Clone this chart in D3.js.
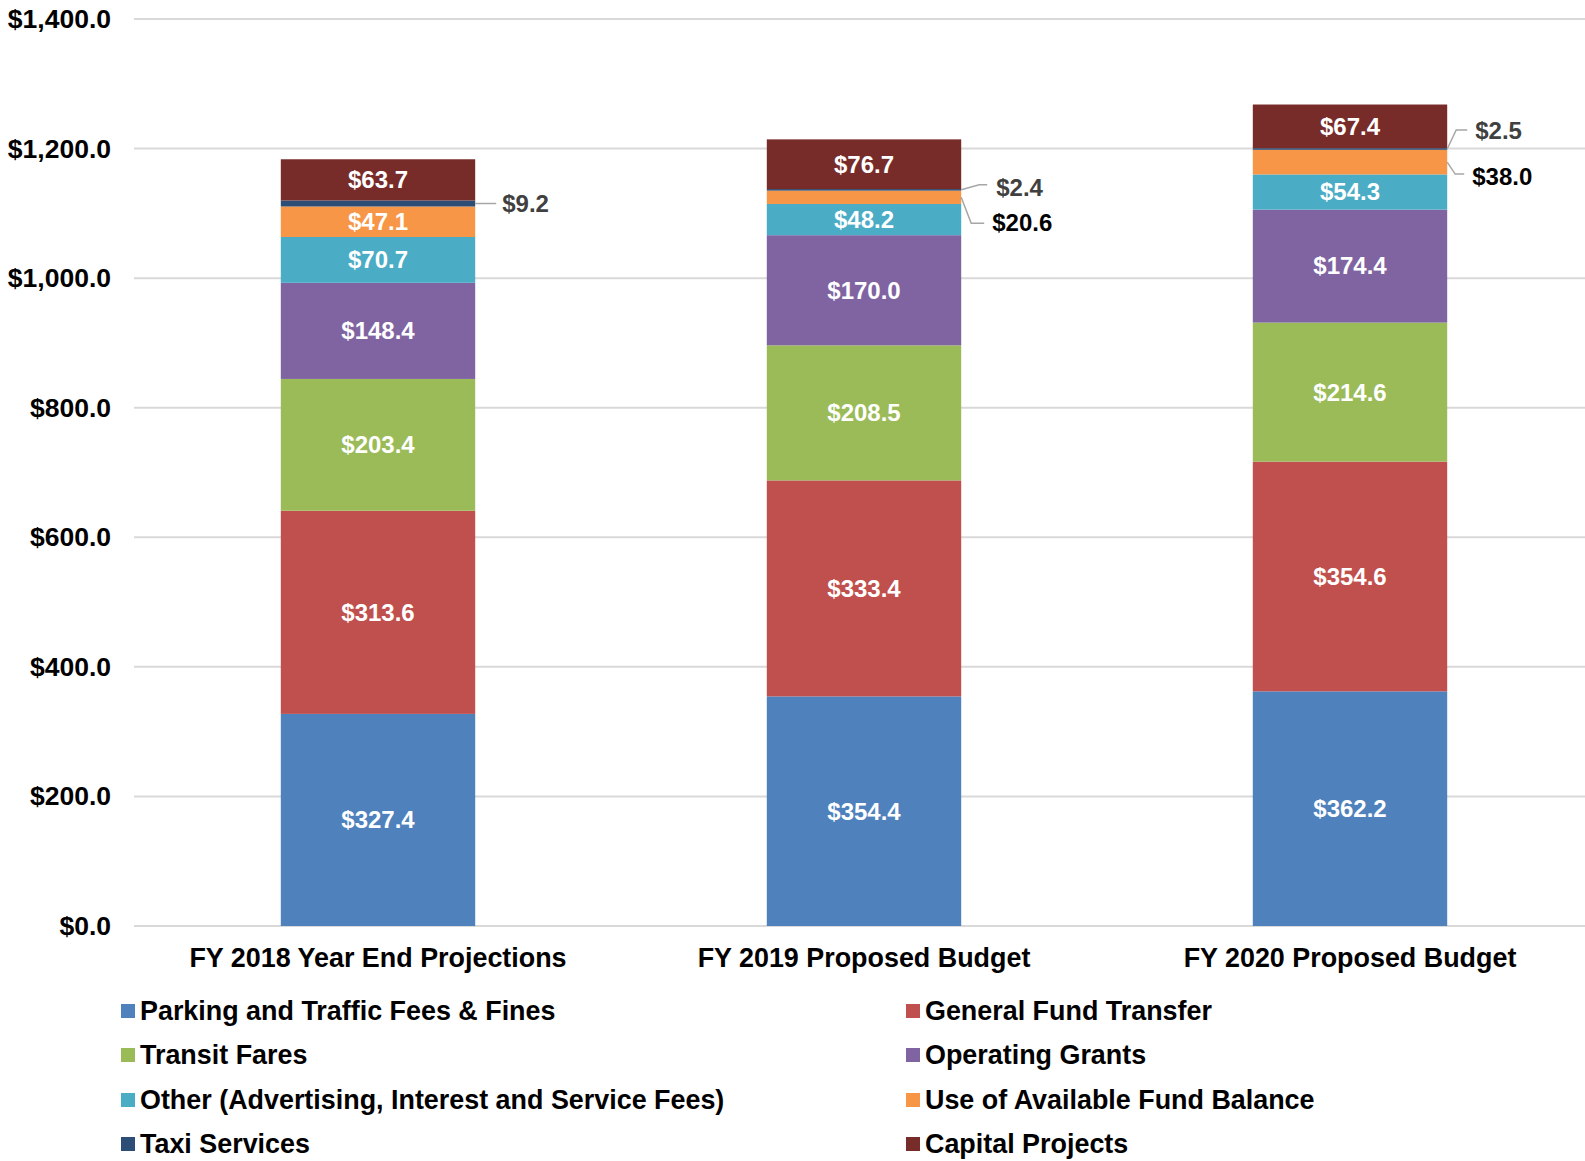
<!DOCTYPE html>
<html><head><meta charset="utf-8">
<script src="https://cdn.jsdelivr.net/npm/d3@7"></script>
<style>
body{margin:0;background:#fff}
svg{display:block}
text{font-family:"Liberation Sans",Arial,sans-serif;font-weight:bold}
</style>
</head><body>
<svg id="c" width="1585" height="1161"></svg>
<script>
// ---- data ----
const categories = ["FY 2018 Year End Projections", "FY 2019 Proposed Budget", "FY 2020 Proposed Budget"];
const seriesNames = [
  "Parking and Traffic Fees & Fines",
  "General Fund Transfer",
  "Transit Fares",
  "Operating Grants",
  "Other (Advertising, Interest and Service Fees)",
  "Use of Available Fund Balance",
  "Taxi Services",
  "Capital Projects"
];
const parkingFees     = [327.4, 354.4, 362.2];
const generalFund     = [313.6, 333.4, 354.6];
const transitFares    = [203.4, 208.5, 214.6];
const operatingGrants = [148.4, 170.0, 174.4];
const otherFees       = [70.7, 48.2, 54.3];
const fundBalance     = [47.1, 20.6, 38.0];
const taxiServices    = [9.2, 2.4, 2.5];
const capitalProjects = [63.7, 76.7, 67.4];
const yTicks = [0, 200, 400, 600, 800, 1000, 1200, 1400];
const seriesColors = ["#4F81BD", "#C0504D", "#9BBB59", "#8064A2", "#4BACC6", "#F79646", "#2C4D75", "#772C2A"];

const seriesValues = [parkingFees, generalFund, transitFares, operatingGrants, otherFees, fundBalance, taxiServices, capitalProjects];

// labels placed outside with leader lines: [seriesIndex, categoryIndex]
const outsideLabels = [[6,0],[6,1],[5,1],[6,2],[5,2]];
// leader geometry (layout, relative to bar right edge / segment middle)
const leaderGeom = {
  "6-0": {pts: [[0,0],[21,0]], lx: 27, ly: 0, color: "#404040"},
  "6-1": {pts: [[0,0],[18,-5],[26,-5]], lx: 35, ly: -2, color: "#404040"},
  "5-1": {pts: [[0,0],[10,26],[23,26]], lx: 31, ly: 25, color: "#000000"},
  "6-2": {pts: [[0,0],[9,-19],[20,-19]], lx: 28, ly: -18, color: "#404040"},
  "5-2": {pts: [[0,0],[8,12],[17,12]], lx: 25, ly: 14, color: "#000000"}
};

// ---- build table ----
const table = categories.map((c, i) => {
  const row = {category: c};
  seriesNames.forEach((s, j) => row[s] = seriesValues[j][i]);
  return row;
});
const stacked = d3.stack().keys(seriesNames)(table);

const svg = d3.select("#c");
const x = d3.scaleBand().domain(categories).range([135, 1593]).paddingInner(0.6).paddingOuter(0.3);
const y = d3.scaleLinear().domain([0, 1400]).range([926, 19]);

// gridlines
svg.append("g").selectAll("line").data(yTicks).join("line")
  .attr("x1", 134).attr("x2", 1585)
  .attr("y1", d => y(d)).attr("y2", d => y(d))
  .attr("stroke", "#d9d9d9").attr("stroke-width", 2);

// y axis labels
const yAxis = d3.axisLeft(y).tickValues(yTicks).tickSize(0).tickPadding(0)
  .tickFormat(d => "$" + d3.format(",.1f")(d));
const ya = svg.append("g").attr("transform", "translate(111,0)").call(yAxis);
ya.select(".domain").remove();
ya.selectAll("text").attr("font-size", 26.5).attr("font-family", '"Liberation Sans",Arial,sans-serif')
  .attr("font-weight", "bold").attr("fill", "#000");

// x axis labels
const xAxis = d3.axisBottom(x).tickSize(0).tickPadding(0);
const xa = svg.append("g").attr("transform", "translate(0,948)").call(xAxis);
xa.select(".domain").remove();
xa.selectAll("text").attr("font-size", 26.9).attr("font-family", '"Liberation Sans",Arial,sans-serif')
  .attr("font-weight", "bold").attr("fill", "#000").attr("dy", "0.35em").attr("y", 10);

// bars
const layers = svg.append("g").selectAll("g").data(stacked).join("g")
  .attr("fill", (d, i) => seriesColors[i]);
layers.selectAll("rect").data(d => d).join("rect")
  .attr("x", d => x(d.data.category))
  .attr("width", x.bandwidth())
  .attr("y", d => y(d[1]))
  .attr("height", d => y(d[0]) - y(d[1]));

// inside labels
const isOutside = (si, ci) => outsideLabels.some(o => o[0] === si && o[1] === ci);
const inside = [];
stacked.forEach((layer, si) => layer.forEach((d, ci) => {
  if (!isOutside(si, ci)) inside.push({d, si, ci});
}));
svg.append("g").selectAll("text").data(inside).join("text")
  .attr("x", o => x(o.d.data.category) + x.bandwidth() / 2)
  .attr("y", o => (y(o.d[0]) + y(o.d[1])) / 2)
  .attr("dy", "0.35em")
  .attr("text-anchor", "middle")
  .attr("font-size", 24)
  .attr("fill", "#fff")
  .text(o => "$" + d3.format(".1f")(seriesValues[o.si][o.ci]));

// outside labels with leaders
const line = d3.line();
outsideLabels.forEach(([si, ci]) => {
  const d = stacked[si][ci];
  const g = leaderGeom[si + "-" + ci];
  const xr = x(categories[ci]) + x.bandwidth();
  const ym = (y(d[0]) + y(d[1])) / 2;
  svg.append("path")
    .attr("d", line(g.pts.map(p => [xr + p[0], ym + p[1]])))
    .attr("fill", "none").attr("stroke", "#a6a6a6").attr("stroke-width", 1.5);
  svg.append("text")
    .attr("x", xr + g.lx).attr("y", ym + g.ly).attr("dy", "0.35em")
    .attr("font-size", 24).attr("fill", g.color)
    .text("$" + d3.format(".1f")(seriesValues[si][ci]));
});

// legend
const legend = svg.append("g").selectAll("g").data(seriesNames).join("g")
  .attr("transform", (d, i) => `translate(${i % 2 === 0 ? 121 : 906},${[1011, 1055, 1100, 1144][Math.floor(i / 2)]})`);
legend.append("rect").attr("x", 0).attr("y", -7).attr("width", 14).attr("height", 14)
  .attr("fill", (d, i) => seriesColors[i]);
legend.append("text").attr("x", 19).attr("dy", "0.35em").attr("font-size", 26.9).attr("fill", "#000")
  .text(d => d);
</script>
</body></html>
